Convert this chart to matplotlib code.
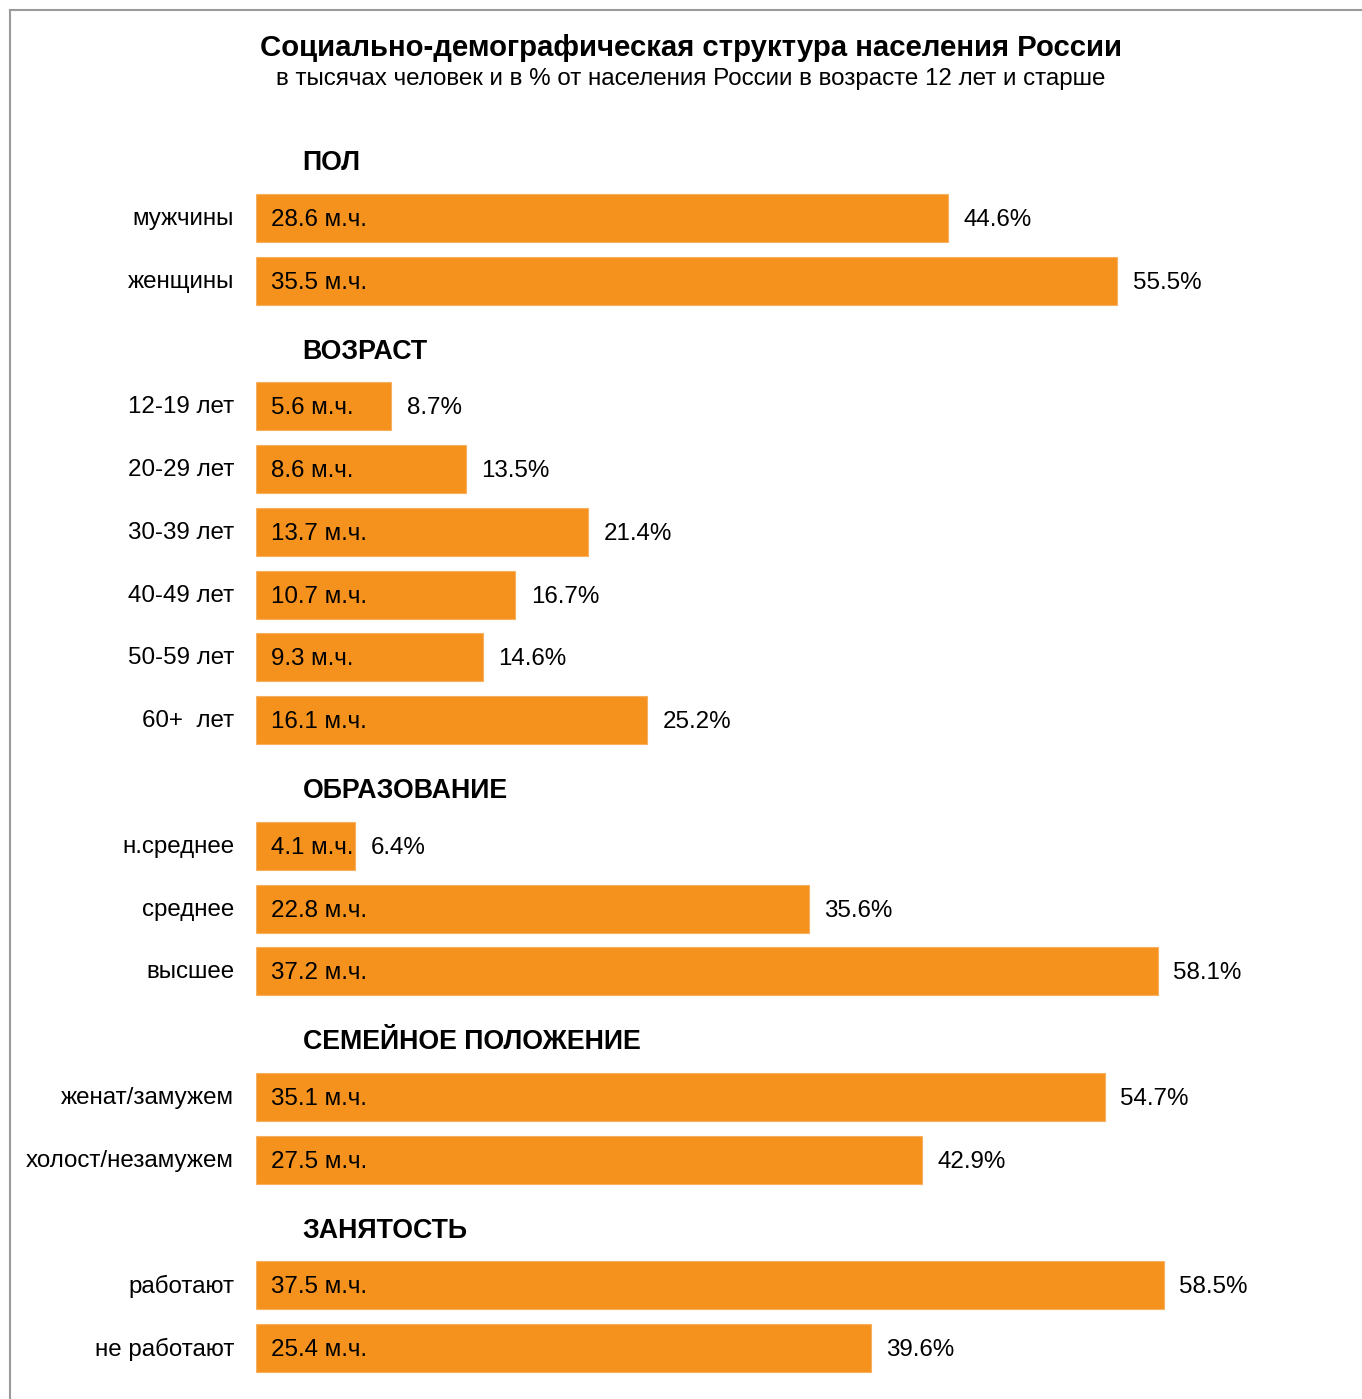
import matplotlib
matplotlib.use('Agg')
import matplotlib.pyplot as plt
from matplotlib.lines import Line2D

plt.rcParams['font.family'] = ['Liberation Sans', 'DejaVu Sans']

ORANGE = '#F5921E'

SECTIONS = ['ПОЛ', 'ВОЗРАСТ', 'ОБРАЗОВАНИЕ', 'СЕМЕЙНОЕ ПОЛОЖЕНИЕ', 'ЗАНЯТОСТЬ']
LABELS = [
    ['мужчины', 'женщины'],
    ['12-19 лет', '20-29 лет', '30-39 лет', '40-49 лет', '50-59 лет', '60+  лет'],
    ['н.среднее', 'среднее', 'высшее'],
    ['женат/замужем', 'холост/незамужем'],
    ['работают', 'не работают'],
]
MILLIONS = [
    [28.6, 35.5],
    [5.6, 8.6, 13.7, 10.7, 9.3, 16.1],
    [4.1, 22.8, 37.2],
    [35.1, 27.5],
    [37.5, 25.4],
]
PERCENT = [
    [44.6, 55.5],
    [8.7, 13.5, 21.4, 16.7, 14.6, 25.2],
    [6.4, 35.6, 58.1],
    [54.7, 42.9],
    [58.5, 39.6],
]

W, H = 1362, 1399
fig = plt.figure(figsize=(W / 100, H / 100), dpi=100)

# axes: x in percent, y in pixel rows from top
x0 = 256
ax = fig.add_axes([x0 / W, 0, 1 - x0 / W, 1])
px_per_pct = 15.52
ax.set_xlim(0, (W - x0) / px_per_pct)
ax.set_ylim(H, 0)
ax.axis('off')

FS = 17.4
step, head_gap, sect_gap = 62.8, 55.5, 70
y = 162.5
for sec, labs, mil, pct in zip(SECTIONS, LABELS, MILLIONS, PERCENT):
    ax.text(3.0, y + 1, sec, fontsize=19.3, fontweight='bold', ha='left', va='center')
    y += head_gap
    for lab, m, p in zip(labs, mil, pct):
        ax.barh(y, p, height=48, color=ORANGE, edgecolor='#F8B060', linewidth=0.8)
        ax.text(0.95, y + 2, '%.1f м.ч.' % m, fontsize=FS, ha='left', va='center')
        ax.text(p + 1.0, y + 2, '%.1f%%' % p, fontsize=FS, ha='left', va='center')
        fig.text(234 / W, 1 - (y + 1) / H, lab, fontsize=FS, ha='right', va='center')
        y += step
    y += sect_gap - step

fig.text(691 / W, 1 - 48 / H, 'Социально-демографическая структура населения России',
         fontsize=21.2, fontweight='bold', ha='center', va='center')
fig.text(691 / W, 1 - 79 / H, 'в тысячах человек и в % от населения России в возрасте 12 лет и старше',
         fontsize=17.4, ha='center', va='center')

# frame lines on top and left
fig.add_artist(Line2D([10 / W, 10 / W], [0, 1 - 10 / H], color='#9a9a9a', lw=1.5))
fig.add_artist(Line2D([10 / W, 1], [1 - 10 / H, 1 - 10 / H], color='#9a9a9a', lw=1.5))

fig.savefig('out.png', dpi=100)
